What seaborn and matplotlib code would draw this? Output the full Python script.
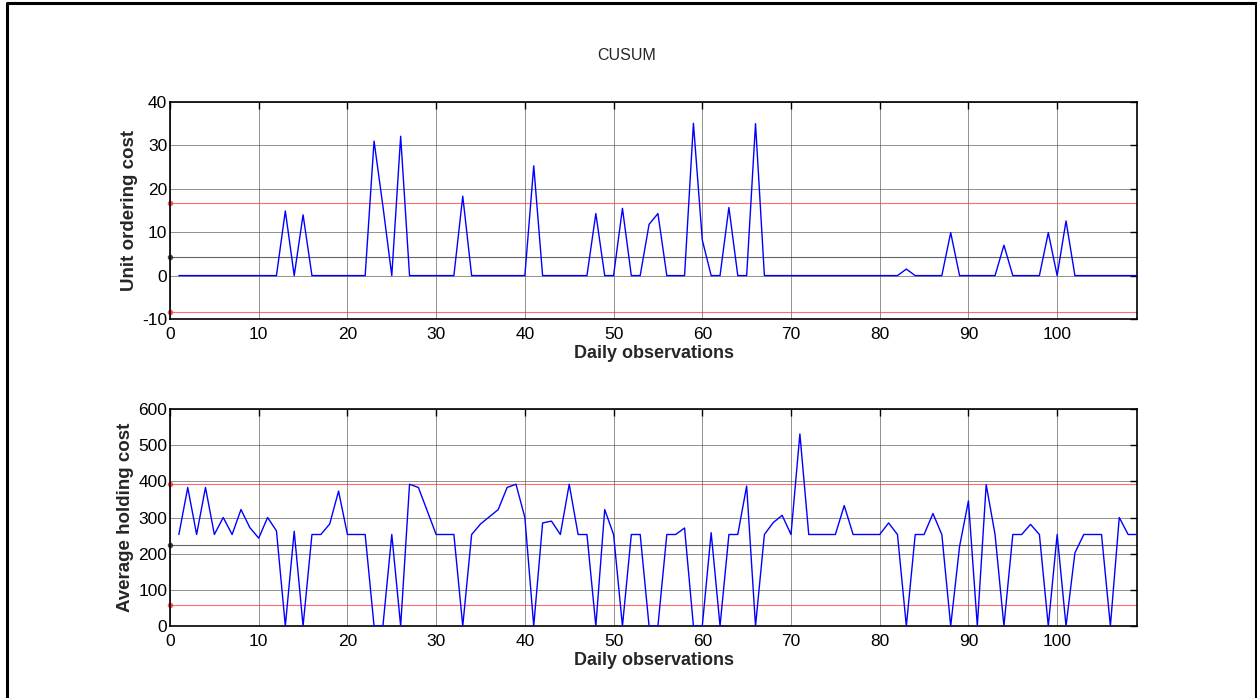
import numpy as np
import pandas as pd
import matplotlib
matplotlib.use("Agg")
import matplotlib.pyplot as plt
from matplotlib.lines import Line2D
import seaborn as sns

# ---------------- data ----------------
days = list(range(1, 110))

ordering_cost = [
    0, 0, 0, 0, 0, 0, 0, 0, 0, 0,          # 1-10
    0, 0, 14.9, 0, 14.0, 0, 0, 0, 0, 0,     # 11-20
    0, 0, 31.0, 16.0, 0, 32.1, 0, 0, 0, 0,  # 21-30
    0, 0, 18.3, 0, 0, 0, 0, 0, 0, 0,        # 31-40
    25.3, 0, 0, 0, 0, 0, 0, 14.3, 0, 0,     # 41-50
    15.5, 0, 0, 11.8, 14.3, 0, 0, 0, 35.1, 8.2,  # 51-60
    0, 0, 15.7, 0, 0, 35.0, 0, 0, 0, 0,     # 61-70
    0, 0, 0, 0, 0, 0, 0, 0, 0, 0,           # 71-80
    0, 0, 1.5, 0, 0, 0, 0, 9.9, 0, 0,       # 81-90
    0, 0, 0, 7.0, 0, 0, 0, 0, 9.9, 0,       # 91-100
    12.6, 0, 0, 0, 0, 0, 0, 0, 0,           # 101-109
]

holding_cost = [
    253, 383, 253, 383, 253, 300, 253, 322, 272, 243,   # 1-10
    300, 263, 0, 262, 0, 253, 253, 282, 373, 253,       # 11-20
    253, 253, 0, 0, 253, 0, 392, 383, 318, 253,         # 21-30
    253, 253, 0, 253, 282, 302, 322, 383, 392, 300,     # 31-40
    0, 285, 290, 253, 392, 253, 253, 0, 322, 253,       # 41-50
    0, 253, 253, 0, 0, 253, 253, 271, 0, 0,             # 51-60
    258, 0, 253, 253, 387, 0, 253, 286, 306, 253,       # 61-70
    531, 253, 253, 253, 253, 333, 253, 253, 253, 253,   # 71-80
    285, 253, 0, 253, 253, 311, 253, 0, 220, 346,       # 81-90
    0, 391, 253, 0, 253, 253, 281, 253, 0, 253,         # 91-100
    0, 202, 253, 253, 253, 0, 300, 253, 253,            # 101-109
]

limit_x = [0, 109]
ordering_ucl, ordering_cl, ordering_lcl = 16.8, 4.2, -8.4
holding_ucl, holding_cl, holding_lcl = 393, 225, 57

ordering_yticks = [-10, 0, 10, 20, 30, 40]
holding_yticks = [0, 100, 200, 300, 400, 500, 600]
xticks = [0, 10, 20, 30, 40, 50, 60, 70, 80, 90, 100]

# ---------------- figure ----------------
sns.set_style("white")
plt.rcParams["font.family"] = ["Liberation Sans", "DejaVu Sans"]
plt.rcParams["axes.unicode_minus"] = False

W, H = 1257, 698
fig = plt.figure(figsize=(W / 100, H / 100), dpi=100)

def axes_rect(left, top, right, bottom):
    return [left / W, 1 - bottom / H, (right - left) / W, (bottom - top) / H]

ax1 = fig.add_axes(axes_rect(170, 102, 1137, 319))
ax2 = fig.add_axes(axes_rect(170, 409, 1137, 626))

df1 = pd.DataFrame({"day": days, "value": ordering_cost})
df2 = pd.DataFrame({"day": days, "value": holding_cost})

def draw(ax, df, ucl, cl, lcl, yticks, ylabel):
    for y, c in [(ucl, "#ff3030"), (lcl, "#ff3030"), (cl, "#222222")]:
        ax.plot(limit_x, [y, y], color=c, lw=0.8, alpha=0.7,
                marker=".", markersize=6, markevery=[0], zorder=2, clip_on=False)
    sns.lineplot(data=df, x="day", y="value", ax=ax, color="blue", lw=1.0, zorder=3)
    ax.set_xlim(0, 109)
    ax.set_ylim(yticks[0], yticks[-1])
    ax.set_xticks(xticks)
    ax.set_yticks(yticks)
    ax.grid(True, color="#555555", lw=0.6, alpha=0.75)
    ax.set_axisbelow(True)
    ax.tick_params(direction="in", length=5, width=1, top=True, right=True,
                   labelsize=12.5, colors="black")
    ax.tick_params(axis="x", pad=6)
    ax.tick_params(axis="y", pad=2)
    for s in ax.spines.values():
        s.set_visible(True)
        s.set_color("black")
        s.set_linewidth(1.2)
    ax.set_xlabel("Daily observations", fontsize=13, fontweight="bold", labelpad=2)
    ax.set_ylabel(ylabel, fontsize=13.5, fontweight="bold", labelpad=3)

draw(ax1, df1, ordering_ucl, ordering_cl, ordering_lcl, ordering_yticks, "Unit ordering cost")
draw(ax2, df2, holding_ucl, holding_cl, holding_lcl, holding_yticks, "Average holding cost")

fig.text(627 / W, 1 - 55 / H, "CUSUM", ha="center", va="center", fontsize=11.5)

# outer frame (left, top, right edges)
fx = [7 / W, 7 / W, 1255.5 / W, 1255.5 / W]
fy = [0.0, 1 - 3 / H, 1 - 3 / H, 0.0]
fig.add_artist(Line2D(fx, fy, transform=fig.transFigure, color="black", lw=2.2))

fig.savefig("out.png", dpi=100, facecolor="white")
